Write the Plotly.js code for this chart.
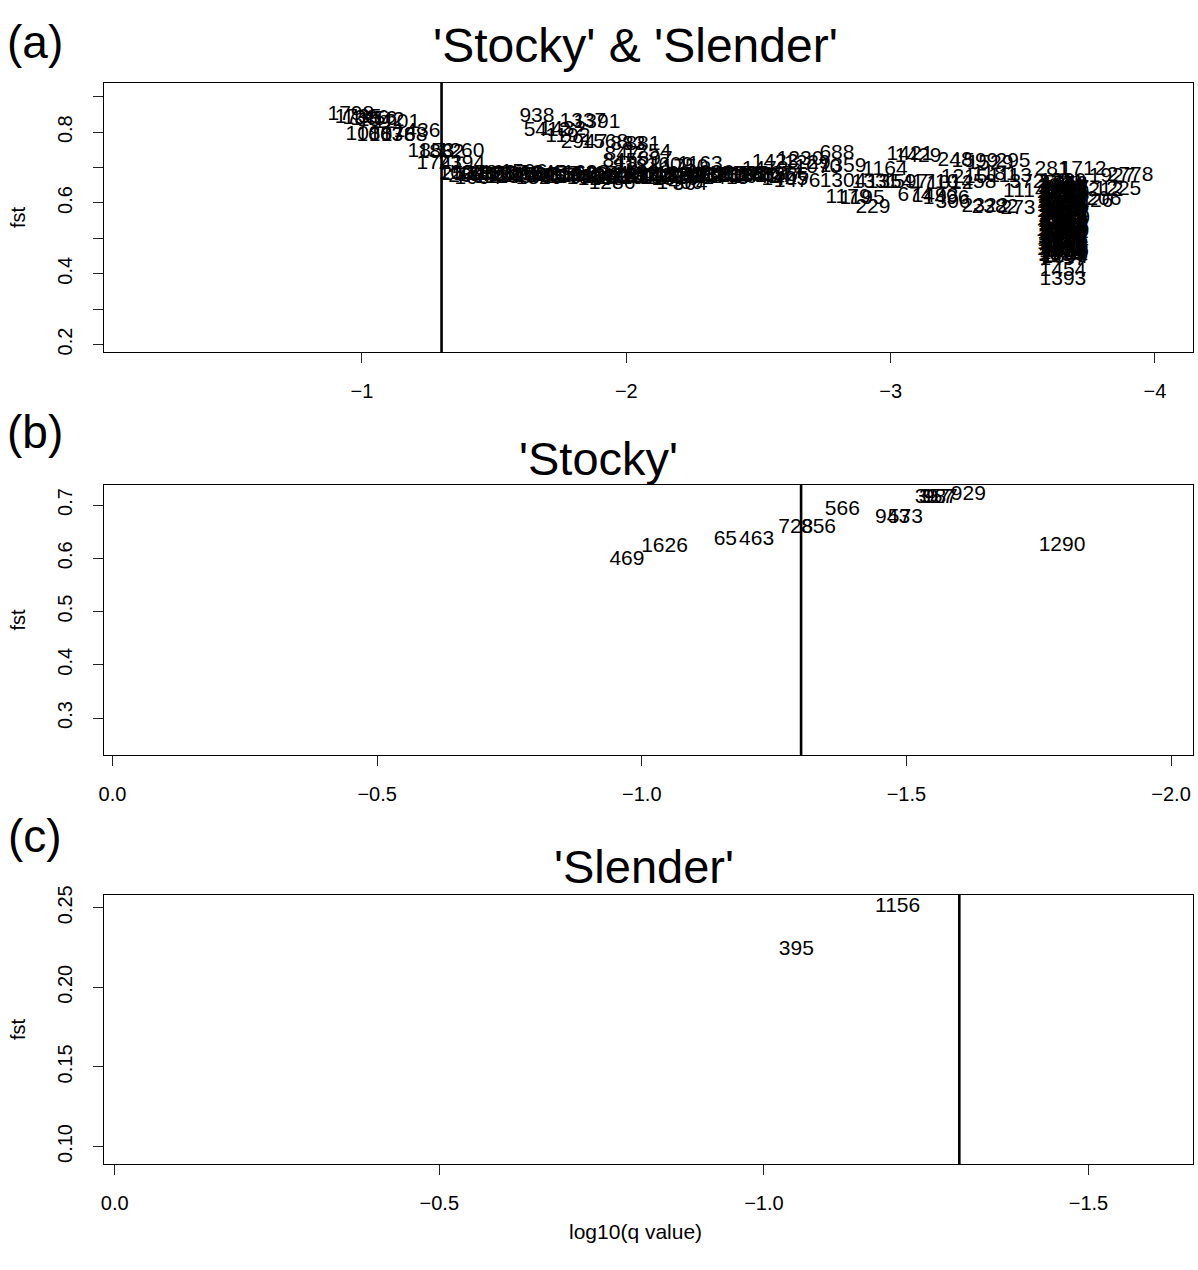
<!DOCTYPE html>
<html>
<head>
<meta charset="utf-8">
<script src="https://cdn.plot.ly/plotly-3.0.1.min.js"></script>
<style>html,body{margin:0;padding:0;background:#fff;}#chart{width:1198px;height:1270px;}</style>
</head>
<body>
<div id="chart"></div>
<script>
// ---------- Panel (a): 'Stocky' & 'Slender' ----------
const topLeftIds = ["1798","1735","1386","1456","1542","1201","1088","1063","1078","1768","1436","1853","1882","1260","1741","2394"];
const topLeftX = [-0.958,-0.985,-1.015,-1.045,-1.072,-1.132,-1.026,-1.068,-1.114,-1.159,-1.208,-1.261,-1.299,-1.375,-1.295,-1.378];
const topLeftY = [0.849,0.840,0.838,0.835,0.831,0.826,0.792,0.790,0.790,0.791,0.800,0.744,0.742,0.744,0.710,0.712];

const midUpperIds = ["938","1337","1391","5412","1432","1192","2947","1568","883","881","847","1254","845","1821","897","1609","818","1750","1163"];
const midUpperX = [-1.662,-1.836,-1.889,-1.700,-1.760,-1.779,-1.840,-1.919,-2.006,-2.063,-1.984,-2.082,-1.976,-2.044,-2.109,-2.165,-2.014,-2.222,-2.279];
const midUpperY = [0.843,0.830,0.826,0.804,0.806,0.787,0.770,0.770,0.764,0.764,0.736,0.741,0.716,0.707,0.722,0.705,0.699,0.699,0.707];

const bandIds = ["257","266","1048","1572","1326","1139","1687","1546","1035","1249","1563","1645","1435","1318","1544","1598","1443","1061","1236","1589","1473","1340","1184","1257","1612","1096","1472","1158","1376","1049","1503","1262","1338","1575","1469","1208","1187","1592","1351","1483","1267","1747","1586"];
const bandX = [-1.363,-1.393,-1.424,-1.450,-1.481,-1.511,-1.537,-1.568,-1.598,-1.624,-1.655,-1.685,-1.715,-1.745,-1.772,-1.802,-1.832,-1.863,-1.889,-1.919,-1.950,-1.976,-2.006,-2.037,-2.067,-2.097,-2.128,-2.154,-2.184,-2.215,-2.245,-2.275,-2.305,-2.336,-2.362,-2.392,-2.423,-2.453,-2.483,-2.513,-2.544,-2.574,-2.604];
const bandY = [0.679,0.674,0.682,0.676,0.679,0.671,0.682,0.676,0.679,0.674,0.676,0.682,0.674,0.676,0.671,0.679,0.674,0.668,0.676,0.671,0.674,0.668,0.671,0.676,0.668,0.674,0.671,0.676,0.665,0.674,0.676,0.671,0.676,0.674,0.679,0.674,0.676,0.679,0.674,0.676,0.679,0.674,0.676];

const band2Ids = ["1029","1664","1378","1146","1596","1320","1457","1081","1633","1265","1549","1109","1490","1371","1224","1587","1036","1415","1178","1642"];
const band2X = [-1.378,-1.438,-1.496,-1.556,-1.613,-1.670,-1.730,-1.787,-1.847,-1.905,-1.965,-2.022,-2.082,-2.139,-2.199,-2.260,-2.320,-2.377,-2.437,-2.494];
const band2Y = [0.684,0.669,0.681,0.671,0.685,0.668,0.680,0.672,0.683,0.667,0.679,0.670,0.684,0.669,0.681,0.672,0.683,0.668,0.680,0.671];

const bandExtraIds = ["1286","1400","364","1423","1230","1478","1405","1476","1070","1229"];
const bandExtraX = [-1.946,-2.203,-2.241,-2.563,-2.657,-2.525,-2.600,-2.646,-2.725,-2.685];
const bandExtraY = [0.654,0.654,0.651,0.713,0.722,0.693,0.665,0.659,0.699,0.710];

const rightIds = ["1359","688","1164","1304","1331","1354","1597","1710","1012","1458","1421","1429","248","1599","1529","295","1215","1181","1113","1179","1195","229","674","1493","1496","306","2322","2382","273","1114","372","281","1712","1927","2778","1212","1225","1226","1206","1117","2651"];
const rightX = [-2.820,-2.797,-2.979,-2.820,-2.941,-2.998,-3.054,-3.168,-3.225,-3.312,-3.073,-3.104,-3.244,-3.319,-3.376,-3.463,-3.278,-3.395,-3.452,-2.839,-2.892,-2.933,-3.092,-3.168,-3.210,-3.236,-3.357,-3.395,-3.482,-3.508,-3.516,-3.611,-3.728,-3.838,-3.906,-3.792,-3.860,-3.754,-3.785,-4.155,-4.227];
const rightY = [0.702,0.739,0.693,0.659,0.656,0.656,0.656,0.656,0.654,0.656,0.736,0.730,0.719,0.716,0.710,0.716,0.671,0.679,0.674,0.614,0.611,0.586,0.620,0.617,0.611,0.600,0.589,0.586,0.583,0.631,0.656,0.693,0.693,0.674,0.676,0.634,0.637,0.603,0.608,0.628,0.685];

const blockIds = ["1280","541","1614","1066","1733","1145","1390","1522","1019","1677","1248","1306","1450","1701","1128","1595","1372","1044","1638","1261","1507","1183","1419","1329","1656","1097","1540","1216","1468","1382","1603","1151","1294","1517","1025","1663","1346","1438","1578","1209","1497","1454","1393"];
const blockX = [-3.652,-3.643,-3.660,-3.648,-3.656,-3.641,-3.663,-3.650,-3.645,-3.658,-3.653,-3.640,-3.661,-3.647,-3.655,-3.644,-3.662,-3.651,-3.646,-3.659,-3.650,-3.642,-3.660,-3.649,-3.657,-3.643,-3.663,-3.652,-3.645,-3.658,-3.654,-3.641,-3.661,-3.648,-3.656,-3.644,-3.662,-3.650,-3.646,-3.659,-3.652,-3.652,-3.652];
const blockY = [0.660,0.655,0.649,0.644,0.639,0.633,0.628,0.622,0.617,0.612,0.606,0.601,0.596,0.590,0.585,0.579,0.574,0.569,0.563,0.558,0.552,0.547,0.542,0.536,0.531,0.525,0.520,0.515,0.509,0.504,0.498,0.493,0.488,0.482,0.477,0.471,0.466,0.461,0.455,0.449,0.441,0.408,0.382];

const block2Ids = ["1311","1559","1084","1627","1402","1270","1536","1118","1689","1347","1233","1574","1021","1465","1392","1648","1176","1513","1055","1620","1287","1449","1104","1583","1362","1027","1691","1240","1508","1131","1416","1667","1075","1528","1299","1602","1153","1481","1034","1644"];
const block2X = [-3.646,-3.657,-3.642,-3.664,-3.650,-3.639,-3.660,-3.653,-3.644,-3.665,-3.648,-3.656,-3.641,-3.663,-3.651,-3.640,-3.659,-3.654,-3.645,-3.666,-3.647,-3.658,-3.643,-3.662,-3.649,-3.638,-3.661,-3.655,-3.644,-3.664,-3.650,-3.657,-3.642,-3.660,-3.652,-3.640,-3.663,-3.653,-3.646,-3.658];
const block2Y = [0.657,0.652,0.646,0.641,0.636,0.630,0.625,0.619,0.614,0.609,0.603,0.598,0.593,0.587,0.582,0.576,0.571,0.566,0.560,0.555,0.549,0.544,0.539,0.533,0.528,0.522,0.517,0.512,0.506,0.501,0.495,0.490,0.485,0.479,0.474,0.468,0.463,0.458,0.452,0.446];

// ---------- Panel (b): 'Stocky' ----------
const stockyIds = ["469","1626","65","463","728","856","566","943","573","397","357","987","929","1290"];
const stockyX = [-0.972,-1.043,-1.158,-1.217,-1.291,-1.334,-1.379,-1.474,-1.498,-1.549,-1.557,-1.564,-1.617,-1.794];
const stockyY = [0.597,0.621,0.634,0.634,0.657,0.657,0.691,0.676,0.676,0.713,0.713,0.713,0.719,0.623];

// ---------- Panel (c): 'Slender' ----------
const slenderIds = ["1156","395"];
const slenderX = [-1.206,-1.050];
const slenderY = [0.2506,0.2236];

// threshold line: log10(0.05)
const qCut = -1.30103;

// tick values / labels
const xTicksA = [-1,-2,-3,-4];
const yTicksA = [0.2,0.3,0.4,0.5,0.6,0.7,0.8,0.9];
const yTextA = ["0.2","","0.4","","0.6","","0.8",""];
const xTicksB = [0,-0.5,-1,-1.5,-2];
const xTextB = ["0.0","\u22120.5","\u22121.0","\u22121.5","\u22122.0"];
const yTicksB = [0.3,0.4,0.5,0.6,0.7];
const yTextB = ["0.3","0.4","0.5","0.6","0.7"];
const xTicksC = [0,-0.5,-1,-1.5];
const xTextC = ["0.0","\u22120.5","\u22121.0","\u22121.5"];
const yTicksC = [0.10,0.15,0.20,0.25];
const yTextC = ["0.10","0.15","0.20","0.25"];

const FONT = "Liberation Sans, Arial, Helvetica, sans-serif";
const W = 1198, H = 1270;
const textFont = {family: FONT, size: 21, color: "#000"};

const idsA = [].concat(topLeftIds, midUpperIds, bandIds, band2Ids, bandExtraIds, rightIds, blockIds, block2Ids);
const xA = [].concat(topLeftX, midUpperX, bandX, band2X, bandExtraX, rightX, blockX, block2X);
const yA = [].concat(topLeftY, midUpperY, bandY, band2Y, bandExtraY, rightY, blockY, block2Y);

const traces = [
  {type: "scatter", mode: "text", x: xA, y: yA, text: idsA, textposition: "middle center",
   textfont: textFont, cliponaxis: false, xaxis: "x", yaxis: "y", hoverinfo: "none", showlegend: false},
  {type: "scatter", mode: "text", x: stockyX, y: stockyY, text: stockyIds, textposition: "middle center",
   textfont: textFont, cliponaxis: false, xaxis: "x2", yaxis: "y2", hoverinfo: "none", showlegend: false},
  {type: "scatter", mode: "text", x: slenderX, y: slenderY, text: slenderIds, textposition: "middle center",
   textfont: textFont, cliponaxis: false, xaxis: "x3", yaxis: "y3", hoverinfo: "none", showlegend: false}
];

function px(x){ return x / W; }
function py(y){ return 1 - y / H; }

const xdom = [px(104), px(1193)];
const axBase = {
  showline: true, mirror: true, linecolor: "#000", linewidth: 1.2,
  ticks: "outside", ticklen: 10, tickwidth: 1, tickcolor: "#222",
  showgrid: false, zeroline: false, tickfont: {family: FONT, size: 20, color: "#000"},
  tickmode: "array", automargin: false, fixedrange: true
};
function xa(extra){ return Object.assign({}, axBase, {ticklabelstandoff: 11}, extra); }
function ya(extra){ return Object.assign({}, axBase, {tickangle: -90, ticklabelstandoff: 13}, extra); }

function ann(text, x, y, size, angle){
  const a = {text: text, x: px(x), y: py(y), xref: "paper", yref: "paper", showarrow: false,
    xanchor: "center", yanchor: "middle", font: {family: FONT, size: size, color: "#000"}};
  if (angle) a.textangle = angle;
  return a;
}

const layout = {
  width: W, height: H,
  margin: {l: 0, r: 0, t: 0, b: 0},
  paper_bgcolor: "#fff", plot_bgcolor: "#fff",
  showlegend: false,
  xaxis: xa({domain: xdom, anchor: "y", range: [-0.024, -4.144], tickvals: xTicksA}),
  yaxis: ya({domain: [py(352), py(83)], anchor: "x", range: [0.179, 0.939], tickvals: yTicksA, ticktext: yTextA}),
  xaxis2: xa({domain: xdom, anchor: "y2", range: [0.016, -2.0415], tickvals: xTicksB, ticktext: xTextB}),
  yaxis2: ya({domain: [py(755), py(485)], anchor: "x2", range: [0.2305, 0.7376], tickvals: yTicksB, ticktext: yTextB}),
  xaxis3: xa({domain: xdom, anchor: "y3", range: [0.0165, -1.661], tickvals: xTicksC, ticktext: xTextC}),
  yaxis3: ya({domain: [py(1164), py(895)], anchor: "x3", range: [0.089, 0.258], tickvals: yTicksC, ticktext: yTextC}),
  shapes: [
    {type: "line", xref: "x", yref: "y domain", x0: qCut, x1: qCut, y0: 0, y1: 1, line: {color: "#000", width: 2.6}},
    {type: "line", xref: "x2", yref: "y2 domain", x0: qCut, x1: qCut, y0: 0, y1: 1, line: {color: "#000", width: 2.6}},
    {type: "line", xref: "x3", yref: "y3 domain", x0: qCut, x1: qCut, y0: 0, y1: 1, line: {color: "#000", width: 2.6}}
  ],
  annotations: [
    ann("(a)", 35, 42, 46),
    ann("'Stocky' &amp; 'Slender'", 635, 45, 48),
    ann("(b)", 35, 432, 46),
    ann("'Stocky'", 598, 458, 47),
    ann("(c)", 35, 836, 46),
    ann("'Slender'", 644, 866, 47),
    ann("fst", 17.5, 217.5, 20, -90),
    ann("fst", 17.5, 620, 20, -90),
    ann("fst", 17.5, 1029.5, 20, -90),
    ann("log10(q value)", 635, 1231, 21)
  ]
};

Plotly.newPlot("chart", traces, layout, {staticPlot: true, displayModeBar: false});
</script>
</body>
</html>
